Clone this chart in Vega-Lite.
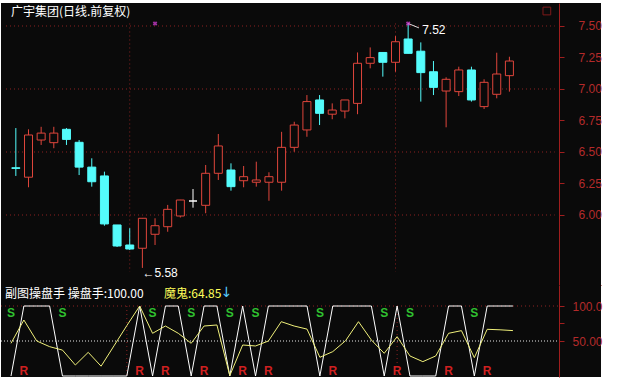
{
  "$schema": "https://vega.github.io/schema/vega-lite/v6.json",
  "background": "#ffffff",
  "padding": {"top": 3, "left": 0, "right": 18, "bottom": 10},
  "spacing": 0,
  "config": {
    "view": {"fill": "#0a0a0a", "stroke": null},
    "text": {"font": "Noto Sans CJK SC", "fontSize": 12},
    "axis": {"labelFont": "Liberation Sans", "labelFontSize": 12}
  },
  "datasets": {
    "candles": [
      {"i": 0, "o": 6.375, "h": 6.69, "l": 6.31, "c": 6.37},
      {"i": 1, "o": 6.30, "h": 6.68, "l": 6.22, "c": 6.635},
      {"i": 2, "o": 6.595, "h": 6.70, "l": 6.556, "c": 6.65},
      {"i": 3, "o": 6.574, "h": 6.70, "l": 6.53, "c": 6.65},
      {"i": 4, "o": 6.68, "h": 6.69, "l": 6.556, "c": 6.60},
      {"i": 5, "o": 6.577, "h": 6.595, "l": 6.317, "c": 6.38},
      {"i": 6, "o": 6.38, "h": 6.45, "l": 6.225, "c": 6.264},
      {"i": 7, "o": 6.31, "h": 6.344, "l": 5.915, "c": 5.929},
      {"i": 8, "o": 5.921, "h": 5.921, "l": 5.746, "c": 5.754},
      {"i": 9, "o": 5.762, "h": 5.895, "l": 5.722, "c": 5.73},
      {"i": 10, "o": 5.736, "h": 5.974, "l": 5.58, "c": 5.974},
      {"i": 11, "o": 5.847, "h": 5.974, "l": 5.762, "c": 5.915},
      {"i": 12, "o": 5.907, "h": 6.08, "l": 5.867, "c": 6.045},
      {"i": 13, "o": 5.992, "h": 6.12, "l": 5.98, "c": 6.119},
      {"i": 14, "o": 6.111, "h": 6.206, "l": 6.058, "c": 6.111},
      {"i": 15, "o": 6.077, "h": 6.397, "l": 6.014, "c": 6.331},
      {"i": 16, "o": 6.331, "h": 6.643, "l": 6.278, "c": 6.548},
      {"i": 17, "o": 6.357, "h": 6.41, "l": 6.193, "c": 6.225},
      {"i": 18, "o": 6.272, "h": 6.389, "l": 6.22, "c": 6.304},
      {"i": 19, "o": 6.26, "h": 6.423, "l": 6.225, "c": 6.278},
      {"i": 20, "o": 6.26, "h": 6.339, "l": 6.113, "c": 6.304},
      {"i": 21, "o": 6.26, "h": 6.66, "l": 6.193, "c": 6.537},
      {"i": 22, "o": 6.537, "h": 6.74, "l": 6.502, "c": 6.714},
      {"i": 23, "o": 6.675, "h": 6.952, "l": 6.621, "c": 6.90},
      {"i": 24, "o": 6.913, "h": 6.952, "l": 6.714, "c": 6.807},
      {"i": 25, "o": 6.80, "h": 6.886, "l": 6.76, "c": 6.833},
      {"i": 26, "o": 6.825, "h": 6.913, "l": 6.767, "c": 6.913},
      {"i": 27, "o": 6.886, "h": 7.29, "l": 6.80, "c": 7.204},
      {"i": 28, "o": 7.204, "h": 7.33, "l": 7.164, "c": 7.249},
      {"i": 29, "o": 7.29, "h": 7.29, "l": 7.098, "c": 7.212},
      {"i": 30, "o": 7.212, "h": 7.42, "l": 7.137, "c": 7.375},
      {"i": 31, "o": 7.397, "h": 7.52, "l": 7.283, "c": 7.283},
      {"i": 32, "o": 7.30, "h": 7.37, "l": 6.90, "c": 7.13},
      {"i": 33, "o": 7.137, "h": 7.222, "l": 6.952, "c": 7.013},
      {"i": 34, "o": 6.984, "h": 7.093, "l": 6.696, "c": 7.077},
      {"i": 35, "o": 6.979, "h": 7.177, "l": 6.944, "c": 7.151},
      {"i": 36, "o": 7.151, "h": 7.177, "l": 6.90, "c": 6.913},
      {"i": 37, "o": 6.86, "h": 7.077, "l": 6.841, "c": 7.053},
      {"i": 38, "o": 6.958, "h": 7.288, "l": 6.926, "c": 7.119},
      {"i": 39, "o": 7.106, "h": 7.256, "l": 6.979, "c": 7.222}
    ],
    "ind": [
      {"i": 0, "cps": 0, "mg": 46.7, "sig": "S"},
      {"i": 1, "cps": 100, "mg": 80, "sig": "R"},
      {"i": 2, "cps": 100, "mg": 50, "sig": ""},
      {"i": 3, "cps": 100, "mg": 41.9, "sig": ""},
      {"i": 4, "cps": 0, "mg": 37, "sig": "S"},
      {"i": 5, "cps": 0, "mg": 15.7, "sig": ""},
      {"i": 6, "cps": 0, "mg": 33.8, "sig": ""},
      {"i": 7, "cps": 0, "mg": 14, "sig": ""},
      {"i": 8, "cps": 0, "mg": 43, "sig": ""},
      {"i": 9, "cps": 0, "mg": 72, "sig": ""},
      {"i": 10, "cps": 100, "mg": 100, "sig": "R"},
      {"i": 11, "cps": 0, "mg": 61, "sig": "S"},
      {"i": 12, "cps": 100, "mg": 71.4, "sig": "R"},
      {"i": 13, "cps": 100, "mg": 61, "sig": ""},
      {"i": 14, "cps": 0, "mg": 46.7, "sig": "S"},
      {"i": 15, "cps": 100, "mg": 71.4, "sig": "R"},
      {"i": 16, "cps": 100, "mg": 72.9, "sig": ""},
      {"i": 17, "cps": 0, "mg": 0.5, "sig": "S"},
      {"i": 18, "cps": 100, "mg": 44.3, "sig": "R"},
      {"i": 19, "cps": 0, "mg": 42.9, "sig": "S"},
      {"i": 20, "cps": 100, "mg": 50, "sig": "R"},
      {"i": 21, "cps": 100, "mg": 77.6, "sig": ""},
      {"i": 22, "cps": 100, "mg": 71.4, "sig": ""},
      {"i": 23, "cps": 100, "mg": 67, "sig": ""},
      {"i": 24, "cps": 0, "mg": 26.7, "sig": "S"},
      {"i": 25, "cps": 100, "mg": 34.8, "sig": "R"},
      {"i": 26, "cps": 100, "mg": 50.5, "sig": ""},
      {"i": 27, "cps": 100, "mg": 77.6, "sig": ""},
      {"i": 28, "cps": 100, "mg": 51.4, "sig": ""},
      {"i": 29, "cps": 0, "mg": 32.4, "sig": "S"},
      {"i": 30, "cps": 100, "mg": 56.2, "sig": "R"},
      {"i": 31, "cps": 0, "mg": 28.6, "sig": "S"},
      {"i": 32, "cps": 0, "mg": 20.5, "sig": ""},
      {"i": 33, "cps": 0, "mg": 28.6, "sig": ""},
      {"i": 34, "cps": 100, "mg": 61, "sig": "R"},
      {"i": 35, "cps": 100, "mg": 64.8, "sig": ""},
      {"i": 36, "cps": 0, "mg": 26.2, "sig": "S"},
      {"i": 37, "cps": 100, "mg": 66.7, "sig": "R"},
      {"i": 38, "cps": 100, "mg": 66, "sig": ""},
      {"i": 39, "cps": 100, "mg": 64.85, "sig": ""}
    ],
    "hgrid": [{"p": 6.0}, {"p": 6.5}, {"p": 7.0}, {"p": 7.5}],
    "vgrid": [{"i": 9}, {"i": 30}],
    "xmarks": [{"i": 11, "p": 7.52}, {"i": 31, "p": 7.52}],
    "hi": [{"i": 31, "p": 7.52, "t": "7.52"}],
    "lo": [{"i": 10, "p": 5.58, "t": "←5.58"}],
    "leader": [{"i": 31, "p": 7.52}, {"i": 31.85, "p": 7.485}]
  },
  "vconcat": [
    {
      "width": 600,
      "height": 282,
      "layer": [
        {
          "data": {"name": "hgrid"},
          "mark": {"type": "rule", "color": "#8c2222", "strokeDash": [1, 3], "strokeWidth": 1},
          "encoding": {
            "y": {
              "field": "p", "type": "quantitative",
              "scale": {"domain": [5.44444, 7.68254], "nice": false, "zero": false},
              "axis": {
                "orient": "right", "offset": -42, "title": null, "grid": false,
                "values": [6, 6.125, 6.25, 6.375, 6.5, 6.625, 6.75, 6.875, 7, 7.125, 7.25, 7.375, 7.5],
                "labelExpr": "(datum.value * 4) % 1 == 0 ? format(datum.value, '.2f') : ''",
                "domainColor": "#a01e1e", "tickColor": "#a01e1e", "tickSize": 5,
                "labelColor": "#b42a2a", "labelPadding": 14, "labelAlign": "left", "labelBaseline": "middle"
              }
            },
            "x": {
              "datum": -0.777, "type": "quantitative",
              "scale": {"domain": [-0.777, 45.843], "nice": false, "zero": false},
              "axis": {"orient": "bottom", "domain": true, "domainColor": "#a01e1e", "ticks": false, "labels": false, "grid": false, "title": null}
            },
            "x2": {"datum": 42.58}
          }
        },
        {
          "data": {"name": "vgrid"},
          "mark": {"type": "rule", "color": "#8c2222", "strokeDash": [1, 3], "strokeWidth": 1},
          "encoding": {
            "x": {"field": "i", "type": "quantitative"},
            "y": {"datum": 7.52},
            "y2": {"datum": 5.55}
          }
        },
        {
          "data": {"name": "candles"},
          "mark": {"type": "rule", "strokeWidth": 1},
          "encoding": {
            "x": {"field": "i", "type": "quantitative"},
            "y": {"field": "l", "type": "quantitative"},
            "y2": {"field": "h"},
            "color": {
              "condition": [
                {"test": "datum.c < datum.o", "value": "#54fcfc"},
                {"test": "datum.c == datum.o", "value": "#ffffff"}
              ],
              "value": "#e0463c"
            }
          }
        },
        {
          "data": {"name": "candles"},
          "mark": {"type": "bar", "size": 8, "strokeWidth": 1},
          "encoding": {
            "x": {"field": "i", "type": "quantitative"},
            "y": {"field": "o", "type": "quantitative"},
            "y2": {"field": "c"},
            "fill": {
              "condition": {"test": "datum.c < datum.o", "value": "#54fcfc"},
              "value": "#0a0a0a"
            },
            "stroke": {
              "condition": [
                {"test": "datum.c < datum.o", "value": "#54fcfc"},
                {"test": "datum.c == datum.o", "value": "#ffffff"}
              ],
              "value": "#e0463c"
            }
          }
        },
        {
          "data": {"name": "leader"},
          "mark": {"type": "line", "color": "#dddddd", "strokeWidth": 1},
          "encoding": {
            "x": {"field": "i", "type": "quantitative"},
            "y": {"field": "p", "type": "quantitative"}
          }
        },
        {
          "data": {"name": "xmarks"},
          "mark": {"type": "point", "shape": "cross", "angle": 45, "size": 22, "filled": true, "color": "#e040e0"},
          "encoding": {
            "x": {"field": "i", "type": "quantitative"},
            "y": {"field": "p", "type": "quantitative"}
          }
        },
        {
          "data": {"name": "hi"},
          "mark": {"type": "text", "align": "left", "baseline": "middle", "dx": 14, "dy": 7, "color": "#ffffff", "font": "Liberation Sans", "fontSize": 12},
          "encoding": {
            "x": {"field": "i", "type": "quantitative"},
            "y": {"field": "p", "type": "quantitative"},
            "text": {"field": "t"}
          }
        },
        {
          "data": {"name": "lo"},
          "mark": {"type": "text", "align": "left", "baseline": "middle", "dx": 0, "dy": 5, "color": "#ffffff", "font": "Liberation Sans", "fontSize": 12},
          "encoding": {
            "x": {"field": "i", "type": "quantitative"},
            "y": {"field": "p", "type": "quantitative"},
            "text": {"field": "t"}
          }
        },
        {
          "data": {"values": [{"t": "广宇集团(日线.前复权)"}]},
          "mark": {"type": "text", "align": "left", "baseline": "middle", "color": "#ffffff"},
          "encoding": {
            "x": {"datum": -0.39},
            "y": {"datum": 7.609},
            "text": {"field": "t"}
          }
        },
        {
          "data": {"values": [{}]},
          "mark": {"type": "point", "shape": "square", "size": 60, "filled": false, "stroke": "#b02020", "strokeWidth": 1},
          "encoding": {
            "x": {"datum": 41.96},
            "y": {"datum": 7.619}
          }
        }
      ]
    },
    {
      "width": 600,
      "height": 92,
      "layer": [
        {
          "data": {"values": [{}]},
          "mark": {"type": "rule", "color": "#8c2222", "strokeDash": [1, 3], "strokeWidth": 1},
          "encoding": {
            "y": {
              "datum": 100, "type": "quantitative",
              "scale": {"domain": [-1.4286, 130], "nice": false, "zero": false},
              "axis": {
                "orient": "right", "offset": -42, "title": null, "grid": false,
                "values": [50, 75, 100],
                "labelExpr": "datum.value == 100 ? '100.0' : (datum.value == 50 ? '50.00' : '')",
                "domainColor": "#a01e1e", "tickColor": "#a01e1e", "tickSize": 5,
                "labelColor": "#b42a2a", "labelPadding": 8, "labelAlign": "left", "labelBaseline": "middle"
              }
            },
            "x": {
              "datum": -0.777, "type": "quantitative",
              "scale": {"domain": [-0.777, 45.843], "nice": false, "zero": false},
              "axis": null
            },
            "x2": {"datum": 42.58}
          }
        },
        {
          "data": {"values": [{}]},
          "mark": {"type": "rule", "color": "#e8e8e8", "strokeDash": [1, 2], "strokeWidth": 1},
          "encoding": {
            "y": {"datum": 50},
            "x": {"datum": -0.777},
            "x2": {"datum": 42.58}
          }
        },
        {
          "data": {"name": "vgrid"},
          "mark": {"type": "rule", "color": "#8c2222", "strokeDash": [1, 3], "strokeWidth": 1},
          "encoding": {
            "x": {"field": "i", "type": "quantitative"},
            "y": {"datum": 100},
            "y2": {"datum": -1.4}
          }
        },
        {
          "data": {"name": "ind"},
          "mark": {"type": "line", "color": "#ffffff", "strokeWidth": 1},
          "encoding": {
            "x": {"field": "i", "type": "quantitative"},
            "y": {"field": "cps", "type": "quantitative"}
          }
        },
        {
          "data": {"name": "ind"},
          "mark": {"type": "line", "color": "#f0f07a", "strokeWidth": 1},
          "encoding": {
            "x": {"field": "i", "type": "quantitative"},
            "y": {"field": "mg", "type": "quantitative"}
          }
        },
        {
          "data": {"name": "ind"},
          "transform": [{"filter": "datum.sig == 'S'"}],
          "mark": {"type": "text", "align": "center", "baseline": "middle", "color": "#30c030", "font": "Liberation Sans", "fontWeight": "bold", "fontSize": 12},
          "encoding": {
            "x": {"field": "i", "type": "quantitative"},
            "y": {"datum": 90.4},
            "text": {"field": "sig"}
          }
        },
        {
          "data": {"name": "ind"},
          "transform": [{"filter": "datum.sig == 'R'"}],
          "mark": {"type": "text", "align": "center", "baseline": "middle", "color": "#d02020", "font": "Liberation Sans", "fontWeight": "bold", "fontSize": 12},
          "encoding": {
            "x": {"field": "i", "type": "quantitative"},
            "y": {"datum": 7.1},
            "text": {"field": "sig"}
          }
        },
        {
          "data": {"values": [{"t": "副图操盘手 操盘手:100.00"}]},
          "mark": {"type": "text", "align": "left", "baseline": "middle", "color": "#ffffff"},
          "encoding": {
            "x": {"datum": -0.466},
            "y": {"datum": 117},
            "text": {"field": "t"}
          }
        },
        {
          "data": {"values": [{"t": "魔鬼:64.85"}]},
          "mark": {"type": "text", "align": "left", "baseline": "middle", "color": "#ffff5a"},
          "encoding": {
            "x": {"datum": 11.89},
            "y": {"datum": 117},
            "text": {"field": "t"}
          }
        },
        {
          "data": {"values": [{"t": "↓"}]},
          "mark": {"type": "text", "align": "left", "baseline": "middle", "color": "#54c8fc", "font": "DejaVu Sans", "fontSize": 14},
          "encoding": {
            "x": {"datum": 16.3},
            "y": {"datum": 118},
            "text": {"field": "t"}
          }
        }
      ]
    }
  ]
}
